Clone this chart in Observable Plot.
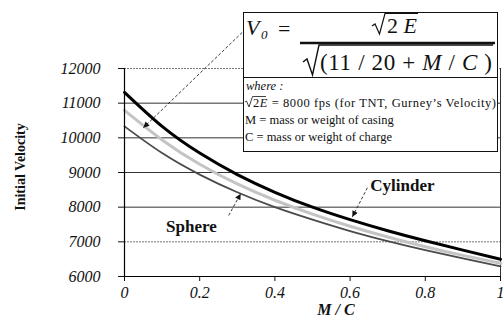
<!DOCTYPE html>
<html>
<head>
<meta charset="utf-8">
<script src="https://cdn.jsdelivr.net/npm/d3@7"></script>
<script src="https://cdn.jsdelivr.net/npm/@observablehq/plot@0.6"></script>
<style>
  html, body { margin: 0; padding: 0; background: #fff; }
  #chart { position: relative; width: 503px; height: 326px; }
  #chart svg g[aria-label$="tick label"] text {
    font-family: 'Liberation Serif', 'Times New Roman', serif !important;
    font-style: italic !important;
    font-size: 16px !important;
    fill: #111;
  }
</style>
</head>
<body>
<div id="chart"></div>
<script>
// Mass ratio M/C and initial fragment velocity (fps) for each casing shape
const massRatio = [0, 0.1, 0.2, 0.3, 0.4, 0.5, 0.6, 0.7, 0.8, 0.9, 1];
const cylinder  = [11310, 10330, 9560, 8940, 8430, 8000, 7640, 7320, 7030, 6760, 6500];
const gurney1120 = [10790, 9940, 9240, 8670, 8200, 7800, 7450, 7140, 6860, 6610, 6380];
const sphere    = [10330, 9560, 8940, 8430, 8000, 7640, 7310, 7020, 6760, 6520, 6290];

// Axis ticks
const yTicks = [6000, 7000, 8000, 9000, 10000, 11000, 12000];
const xTicks = [0, 0.2, 0.4, 0.6, 0.8, 1];
const xTickLabels = ["0", "0.2", "0.4", "0.6", "0.8", "1"];

// Callouts: curve names and the points their arrows touch
const curveNames = ["Cylinder", "Sphere"];
const nameAnchors = [{x: 0.739, y: 8625}, {x: 0.178, y: 7442}];
const pointers = [
  {x1: 0.646, y1: 8560, x2: 0.606, y2: 7720},   // Cylinder
  {x1: 0.277, y1: 7760, x2: 0.309, y2: 8390},   // Sphere
  {x1: 0.313, y1: 13040, x2: 0.05, y2: 10290}   // formula box -> 11/20 curve
];

const serif = "'Liberation Serif', 'Times New Roman', serif";
const series = (v) => massRatio.map((m, i) => ({m, v: v[i]}));

const chart = Plot.plot({
  width: 503,
  height: 326,
  marginLeft: 124,
  marginRight: 3,
  marginTop: 68,
  marginBottom: 50,
  x: {domain: [0, 1]},
  y: {domain: [6000, 12000]},
  style: {fontFamily: serif, background: "#fff", color: "#111", overflow: "visible"},
  marks: [
    // horizontal gridlines
    Plot.ruleY([8000, 9000, 10000, 11000], {stroke: "#333", strokeWidth: 1}),
    Plot.ruleY([7000, 12000], {stroke: "#777", strokeWidth: 1, strokeDasharray: "2,1"}),
    Plot.ruleX([1], {stroke: "#333", strokeWidth: 1}),
    // curves
    Plot.line(series(gurney1120), {x: "m", y: "v", stroke: "#c4c4c4", strokeWidth: 3, curve: "natural"}),
    Plot.line(series(sphere), {x: "m", y: "v", stroke: "#4a4a4a", strokeWidth: 1.8, curve: "natural"}),
    Plot.line(series(cylinder), {x: "m", y: "v", stroke: "#000", strokeWidth: 3, curve: "natural"}),
    // axis lines
    Plot.ruleX([0], {stroke: "#000", strokeWidth: 1.2}),
    Plot.ruleY([6000], {stroke: "#000", strokeWidth: 1.2}),
    Plot.axisY({ticks: yTicks, tickSize: 6, tickPadding: 18, tickFormat: d3.format("d"),
      fontSize: 16, fontStyle: "italic", fontFamily: serif, label: null}),
    Plot.axisX({ticks: xTicks, tickSize: 5, tickPadding: 5,
      tickFormat: d => xTickLabels[xTicks.indexOf(d)],
      fontSize: 16, fontStyle: "italic", fontFamily: serif, label: null}),
    // callouts
    Plot.link(pointers, {x1: "x1", y1: "y1", x2: "x2", y2: "y2",
      stroke: "#222", strokeWidth: 0.9, strokeDasharray: "3,2", className: "pointer"}),
    Plot.text(curveNames, {x: (d, i) => nameAnchors[i].x, y: (d, i) => nameAnchors[i].y,
      text: d => d, fontSize: 17, fontWeight: "bold", fill: "#111"})
  ]
});

document.getElementById("chart").appendChild(chart);

const svg = d3.select(chart);

// axis titles
svg.append("text").attr("transform", "translate(22,167) rotate(-90)")
  .attr("text-anchor", "middle").attr("dominant-baseline", "middle")
  .attr("font-family", serif).attr("font-size", 14).attr("font-weight", "bold")
  .attr("fill", "#111").text("Initial Velocity");
svg.append("text").attr("x", 336).attr("y", 315)
  .attr("text-anchor", "middle")
  .attr("font-family", serif).attr("font-size", 16).attr("font-style", "italic").attr("font-weight", "bold")
  .attr("fill", "#111").text("M / C");

// filled arrowheads on the callout pointers
svg.append("defs").append("marker")
  .attr("id", "head").attr("viewBox", "0 0 10 10")
  .attr("refX", 10).attr("refY", 5)
  .attr("markerUnits", "userSpaceOnUse")
  .attr("markerWidth", 8).attr("markerHeight", 6)
  .attr("orient", "auto")
  .append("path").attr("d", "M0,0L10,5L0,10z").attr("fill", "#111").attr("stroke", "none");
svg.selectAll(".pointer path").attr("marker-end", "url(#head)");

// Gurney formula box
const box = svg.append("g").attr("font-family", serif).attr("fill", "#111")
  .attr("text-anchor", "start");
box.append("rect").attr("x", 243.5).attr("y", 12.5).attr("width", 254).attr("height", 139)
  .attr("fill", "#fff").attr("stroke", "#111").attr("stroke-width", 1);
box.append("line").attr("x1", 243.5).attr("x2", 497.5).attr("y1", 77.5).attr("y2", 77.5)
  .attr("stroke", "#111");

// V0 =
box.append("text").attr("x", 246).attr("y", 35).attr("font-size", 22).attr("font-style", "italic").text("V");
box.append("text").attr("x", 261).attr("y", 39).attr("font-size", 13).attr("font-style", "italic").text("0");
box.append("text").attr("x", 278).attr("y", 36).attr("font-size", 22).text("=");
// fraction bar
box.append("line").attr("x1", 300).attr("x2", 495).attr("y1", 43).attr("y2", 43)
  .attr("stroke", "#111").attr("stroke-width", 2.5);
// numerator: sqrt(2E)
box.append("path").attr("d", "M372,26L375,24L379.5,34L385,13.5L418,13.5")
  .attr("fill", "none").attr("stroke", "#111").attr("stroke-width", 1.2);
const num = box.append("text").attr("x", 387).attr("y", 33).attr("font-size", 22);
num.append("tspan").text("2 ");
num.append("tspan").attr("font-style", "italic").text("E");
// denominator: sqrt(11/20 + M/C)
box.append("path").attr("d", "M303,62L307,59L312.5,75L319,45L493,45")
  .attr("fill", "none").attr("stroke", "#111").attr("stroke-width", 1.4);
const den = box.append("text").attr("x", 320).attr("y", 70).attr("font-size", 23)
  .attr("xml:space", "preserve").attr("textLength", 172).attr("lengthAdjust", "spacing");
den.append("tspan").text("(11 / 20 + ");
den.append("tspan").attr("font-style", "italic").text("M");
den.append("tspan").text(" / ");
den.append("tspan").attr("font-style", "italic").text("C");
den.append("tspan").text(" )");

// definitions
box.append("text").attr("x", 246).attr("y", 90).attr("font-size", 12.5).attr("font-style", "italic").text("where :");
box.append("path").attr("d", "M245,102L246.5,101L249,107L252.5,96.5L266,96.5")
  .attr("fill", "none").attr("stroke", "#111").attr("stroke-width", 0.8);
const def1 = box.append("text").attr("x", 253).attr("y", 107).attr("font-size", 12.5)
  .attr("textLength", 243).attr("lengthAdjust", "spacing");
def1.append("tspan").text("2");
def1.append("tspan").attr("font-style", "italic").text("E");
def1.append("tspan").text(" = 8000 fps (for TNT, Gurney’s Velocity)");
box.append("text").attr("x", 245).attr("y", 124).attr("font-size", 12.5).text("M = mass or weight of casing");
box.append("text").attr("x", 245).attr("y", 141).attr("font-size", 12.5).text("C = mass or weight of charge");
</script>
</body>
</html>
